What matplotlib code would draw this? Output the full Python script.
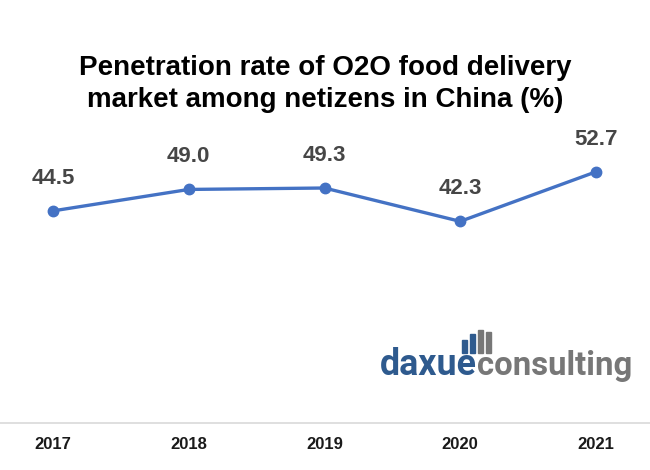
import matplotlib
matplotlib.use("Agg")
import matplotlib.pyplot as plt
from matplotlib.patches import Rectangle

years = ["2017", "2018", "2019", "2020", "2021"]
rates = [44.5, 49.0, 49.3, 42.3, 52.7]
title = "Penetration rate of O2O food delivery\nmarket among netizens in China (%)"

W, H = 650, 470
fig = plt.figure(figsize=(6.5, 4.7), dpi=100)
ax = fig.add_axes([0.0, 0.1, 1.0, 0.6085])
x = list(range(len(years)))
ax.plot(x, rates, color="#4472C4", lw=2.4, marker="o", ms=7.5, zorder=3)
for xi, v in zip(x, rates):
    ax.annotate(f"{v:.1f}", (xi, v), xytext=(0, 16), textcoords="offset points",
                ha="center", va="bottom", fontsize=16, color="#464646",
                family="Liberation Sans", fontweight="bold")
ax.set_xlim(-53/135.75, (W-53)/135.75)
ax.set_ylim(0, 60)
ax.set_xticks(x)
ax.set_xticklabels(years, fontsize=12, fontweight="bold", family="Liberation Sans",
                   color="#1a1a1a")
ax.tick_params(axis="x", length=0, pad=10)
ax.set_yticks([])
for s in ["top", "left", "right"]:
    ax.spines[s].set_visible(False)
ax.spines["bottom"].set_color("#D9D9D9")
ax.spines["bottom"].set_linewidth(1.2)

fig.text(0.5, 1 - 84/H, title, ha="center", va="center", fontsize=20,
         fontweight="bold", family="Liberation Sans", linespacing=1.3)

# watermark logo
fig.canvas.draw()
r = fig.canvas.get_renderer()
ybase = 1 - 375/H
t1 = fig.text(380/W, ybase, "daxue", ha="left", va="baseline", fontsize=25,
              fontweight="bold", color="#2E5A8E", family="Roboto")
w1 = t1.get_window_extent(r).width
t1.set_fontsize(25 * 97 / w1)
bb = t1.get_window_extent(r)
t2 = fig.text(bb.x1/W, ybase, "consulting", ha="left", va="baseline", fontsize=25,
              fontweight="bold", color="#777777", family="Roboto")
w2 = t2.get_window_extent(r).width
t2.set_fontsize(25 * 155 / w2)
bars = [(462, 340, 13), (470, 334, 19), (478, 330, 23), (486, 332, 21)]
cols = ["#2E5A8E", "#2E5A8E", "#777777", "#777777"]
for (bx, by, bh), c in zip(bars, cols):
    fig.patches.append(Rectangle((bx/W, 1 - (by+bh)/H), 4.5/W, bh/H,
                                 transform=fig.transFigure, color=c))

fig.savefig("out.png", dpi=100, facecolor="white")
